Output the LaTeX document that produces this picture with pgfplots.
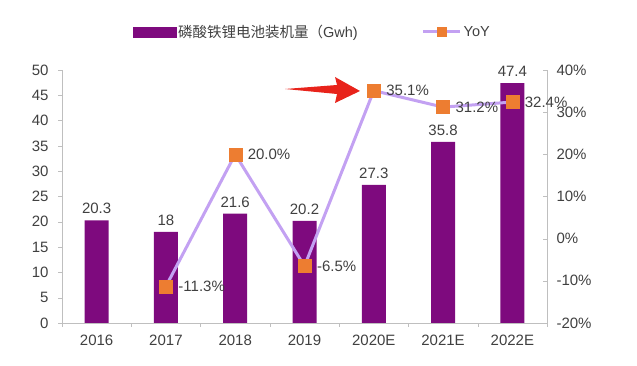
\documentclass[border=0pt]{standalone}
\usepackage{pgfplots}
\pgfplotsset{compat=1.18}
\usepackage{fontspec}
\setmainfont{Liberation Sans}
\newfontfamily\cjk{Noto Sans CJK SC}
\definecolor{barpurple}{HTML}{7E0A7E}
\definecolor{linelav}{HTML}{C3A1F2}
\definecolor{mkorange}{HTML}{ED7D31}
\definecolor{txt}{HTML}{404040}
\definecolor{axgray}{HTML}{BFBFBF}
\definecolor{arrred}{HTML}{E8231B}
\begin{document}
\begin{tikzpicture}
\useasboundingbox (0pt,0pt) rectangle (637pt,366pt);
\begin{axis}[
  at={(62pt,43pt)}, anchor=south west,
  scale only axis, width=485pt, height=253pt,
  xmin=-0.5, xmax=6.5, ymin=0, ymax=50,
  axis x line*=bottom, axis y line*=left,
  axis line style={draw=axgray, -},
  /pgf/number format/assume math mode=true,
  ytick={0,5,...,50},
  xtick={0,...,6},
  xticklabels={2016,2017,2018,2019,2020E,2021E,2022E},
  major x tick style={draw=none},
  minor xtick={-0.5,0.5,...,6.5},
  minor tick length=4pt,
  minor x tick style={draw=axgray},
  major y tick style={draw=axgray},
  tick align=outside,
  major tick length=4pt,
  ticklabel style={font=\fontsize{15}{17}\selectfont, text=txt},
  xticklabel style={yshift=-4pt},
  yticklabel style={xshift=-6pt},
  legend style={at={(0.516,1)}, anchor=south, yshift=27pt, draw=none,
    fill=none, legend columns=2, font=\fontsize{14.5}{17}\selectfont, text=txt,
    /tikz/every even column/.append style={column sep=62pt}},
  legend cell align=left,
]
\addlegendimage{legend image code/.code={\fill[barpurple] (0pt,-5pt) rectangle (43pt,5pt);}}
\addlegendentry{{\cjk 磷酸铁锂电池装机量（}Gwh)}
\addlegendimage{legend image code/.code={\draw[linelav, line width=3pt] (0pt,0pt) -- (37pt,0pt); \fill[mkorange] (14pt,-4.5pt) rectangle (23pt,4.5pt);}}
\addlegendentry{YoY}
\addplot[ybar, bar width=24pt, fill=barpurple, draw=none, forget plot,
  nodes near coords, point meta=explicit symbolic,
  nodes near coords style={font=\fontsize{15}{17}\selectfont, text=txt, anchor=south, yshift=3pt}]
  coordinates {(0,20.3)[20.3] (1,18)[18] (2,21.6)[21.6] (3,20.2)[20.2] (4,27.3)[27.3] (5,35.8)[35.8] (6,47.4)[47.4]};
\end{axis}
\begin{axis}[
  at={(62pt,43pt)}, anchor=south west,
  scale only axis, width=485pt, height=253pt,
  xmin=-0.5, xmax=6.5, ymin=-20, ymax=40,
  axis x line=none, axis y line*=right,
  axis line style={draw=axgray, -},
  /pgf/number format/assume math mode=true,
  ytick={-20,-10,...,40},
  yticklabel={\pgfmathprintnumber{\tick}\%},
  major y tick style={draw=axgray},
  tick align=inside, major tick length=4pt,
  yticklabel style={font=\fontsize{15}{17}\selectfont, text=txt, xshift=6pt},
]
\addplot[linelav, line width=3pt, mark=square*, mark size=6.5pt,
  mark options={fill=mkorange, draw=mkorange, line width=0.4pt},
  nodes near coords, point meta=explicit symbolic,
  nodes near coords style={font=\fontsize{15}{17}\selectfont, text=txt, anchor=west, xshift=9pt}]
  coordinates {(1,-11.3)[-11.3\%] (2,20.0)[20.0\%] (3,-6.5)[-6.5\%] (4,35.1)[35.1\%] (5,31.2)[31.2\%] (6,32.4)[32.4\%]};
\end{axis}
\fill[arrred] (285pt,277pt) -- (337pt,281pt) -- (335pt,289pt) -- (360pt,275pt) -- (335pt,263pt) -- (337pt,272pt) -- cycle;
\end{tikzpicture}
\end{document}
